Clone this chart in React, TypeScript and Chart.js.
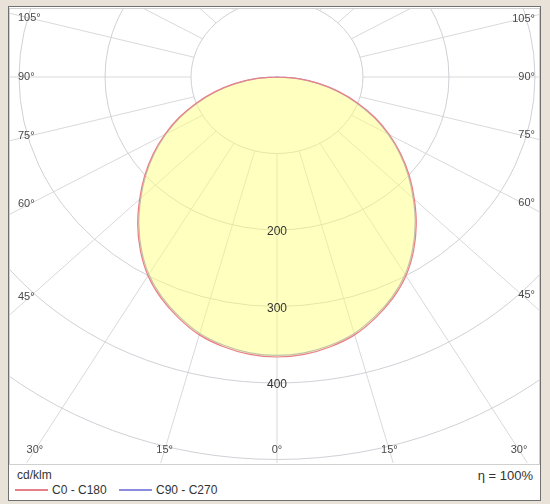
import { useEffect, useRef } from "react"
import { Chart, registerables, type ChartConfiguration, type Plugin } from "chart.js"

Chart.register(...registerables)

// luminous intensity (cd/klm), per gamma angle
const gammaAngles = [0, 5, 10, 15, 20, 25, 30, 35, 40, 45, 50, 55, 60, 65, 70, 75, 80, 85, 90]
const c0c180 = [366, 364, 358, 349, 335, 319, 300, 277, 252, 226, 201, 176, 151, 126, 100, 75, 50, 25, 0]
const c90c270 = [364, 362, 356, 347, 333, 317, 298, 275, 250, 224, 199, 174, 149, 124, 98, 73, 48, 24, 0]

const ringValues = [100, 200, 300, 400, 500, 600]
const ringLabels = [200, 300, 400]
const spokeAngles = [0, 15, 30, 45, 60, 75, 90, 105, 120, 135, 150, 165, 180, 195, 210, 225, 240, 255, 270, 285, 300, 315, 330, 345]
const angleLabels = [0, 15, 30, 45, 60, 75, 90, 105]

const seriesNames = ["C0 - C180", "C90 - C270"]
const seriesColors = ["#e8808a", "#8c8ce0"]

const FONT = "'Liberation Sans', Arial, sans-serif"
const deg = Math.PI / 180

// left half is the opposite C plane, right half the named one
function toCurve(values: number[]) {
  const left = gammaAngles
    .map((g, i) => ({ x: -values[i] * Math.sin(g * deg), y: -values[i] * Math.cos(g * deg) }))
    .reverse()
  const right = gammaAngles
    .slice(1)
    .map((g, i) => ({ x: values[i + 1] * Math.sin(g * deg), y: -values[i + 1] * Math.cos(g * deg) }))
  return [...left, ...right]
}

const polarGrid: Plugin<"line"> = {
  id: "polarGrid",
  beforeDatasetsDraw(chart) {
    const { ctx, chartArea: area } = chart
    const x = chart.scales.x
    const y = chart.scales.y
    const cx = x.getPixelForValue(0)
    const cy = y.getPixelForValue(0)
    ctx.save()
    ctx.beginPath()
    ctx.rect(area.left, area.top, area.right - area.left, area.bottom - area.top)
    ctx.clip()
    ctx.lineWidth = 1
    ctx.strokeStyle = "#d9d9db"
    for (const a of spokeAngles) {
      const s = Math.sin(a * deg)
      const c = Math.cos(a * deg)
      ctx.beginPath()
      ctx.moveTo(x.getPixelForValue(ringValues[0] * s), y.getPixelForValue(-ringValues[0] * c))
      ctx.lineTo(x.getPixelForValue(1000 * s), y.getPixelForValue(-1000 * c))
      ctx.stroke()
    }
    ctx.strokeStyle = "#d0d0d6"
    for (const r of ringValues) {
      const rx = x.getPixelForValue(r) - cx
      const ry = y.getPixelForValue(-r) - cy
      ctx.beginPath()
      ctx.ellipse(cx, cy, rx, ry, 0, 0, Math.PI * 2)
      ctx.stroke()
    }
    ctx.restore()
  },
  afterDatasetsDraw(chart) {
    const { ctx, chartArea: area } = chart
    const x = chart.scales.x
    const y = chart.scales.y
    const cx = x.getPixelForValue(0)
    ctx.save()
    ctx.textBaseline = "middle"

    // intensity rings
    ctx.font = `12px ${FONT}`
    ctx.fillStyle = "#333"
    ctx.textAlign = "center"
    for (const r of ringLabels) {
      ctx.fillText(String(r), cx, y.getPixelForValue(-r) + 2)
    }

    // gamma angles where the spokes leave the frame
    ctx.font = `11px ${FONT}`
    ctx.fillStyle = "#4a4a4a"
    for (const a of angleLabels) {
      const text = `${a}°`
      const s = Math.sin(a * deg)
      const c = Math.cos(a * deg)
      if (a <= 30) {
        const py = area.bottom - 13
        const t = -y.getValueForPixel(py)! / c
        const sides = a === 0 ? [1] : [-1, 1]
        for (const side of sides) {
          let px = x.getPixelForValue(side * t * s)
          px = Math.min(Math.max(px, area.left + 18), area.right - 14)
          ctx.textAlign = "center"
          ctx.fillText(text, px, py)
        }
      } else {
        for (const side of [-1, 1]) {
          const probe = side < 0 ? area.left + 20 : area.right - 17
          const t = Math.abs(x.getValueForPixel(probe)!) / s
          const py = y.getPixelForValue(-t * c)
          ctx.textAlign = side < 0 ? "left" : "right"
          ctx.fillText(text, side < 0 ? area.left + 8 : area.right - 4, py)
        }
      }
    }
    ctx.restore()
  },
}

export default function App() {
  const canvasRef = useRef<HTMLCanvasElement>(null)

  useEffect(() => {
    if (!canvasRef.current) return

    const config: ChartConfiguration<"line"> = {
      type: "line",
      data: {
        datasets: [
          {
            label: seriesNames[0],
            data: toCurve(c0c180),
            borderColor: seriesColors[0],
            backgroundColor: "rgba(255, 255, 120, 0.47)",
            fill: "shape",
            borderWidth: 1.2,
            pointRadius: 0,
            tension: 0.4,
          },
          {
            label: seriesNames[1],
            data: toCurve(c90c270),
            borderColor: seriesColors[1],
            fill: false,
            borderWidth: 1.2,
            pointRadius: 0,
            tension: 0.4,
          },
        ],
      },
      options: {
        responsive: false,
        animation: false,
        layout: { padding: 0 },
        scales: {
          x: { type: "linear", min: -310.5, max: 304.7, display: false },
          y: { type: "linear", min: -504.6, max: 88.9, display: false },
        },
        plugins: {
          legend: { display: false },
          tooltip: { enabled: false },
        },
      },
      plugins: [polarGrid],
    }

    const chart = new Chart(canvasRef.current, config)
    return () => chart.destroy()
  }, [])

  return (
    <div
      style={{
        position: "absolute",
        left: 0,
        top: 0,
        width: 550,
        height: 504,
        background: "#e8e2d8",
        fontFamily: FONT,
      }}
    >
      <div
        style={{
          position: "absolute",
          left: 8,
          top: 6,
          width: 533,
          height: 495,
          boxSizing: "border-box",
          border: "1px solid #707070",
          background: "#fff",
        }}
      />
      <div
        style={{
          position: "absolute",
          left: 9,
          top: 8,
          width: 531,
          height: 457,
          boxSizing: "border-box",
          border: "1px solid #d0d0d0",
        }}
      />
      <canvas
        ref={canvasRef}
        width={529}
        height={454}
        style={{ position: "absolute", left: 10, top: 9, width: 529, height: 454 }}
      />
      <div style={{ position: "absolute", left: 17, top: 468, fontSize: 12, lineHeight: "15px", color: "#333" }}>
        cd/klm
      </div>
      <div
        style={{
          position: "absolute",
          right: 17,
          top: 468,
          fontSize: 13,
          lineHeight: "15px",
          color: "#333",
          whiteSpace: "pre",
        }}
      >
        η = 100%
      </div>
      {seriesNames.map((name, i) => (
        <div key={name}>
          <div
            style={{
              position: "absolute",
              left: 15 + i * 104,
              top: 489,
              width: 33,
              height: 2,
              background: seriesColors[i],
            }}
          />
          <div
            style={{
              position: "absolute",
              left: 52 + i * 104,
              top: 483,
              fontSize: 12,
              lineHeight: "14px",
              color: "#333",
              whiteSpace: "pre",
            }}
          >
            {name}
          </div>
        </div>
      ))}
    </div>
  )
}
